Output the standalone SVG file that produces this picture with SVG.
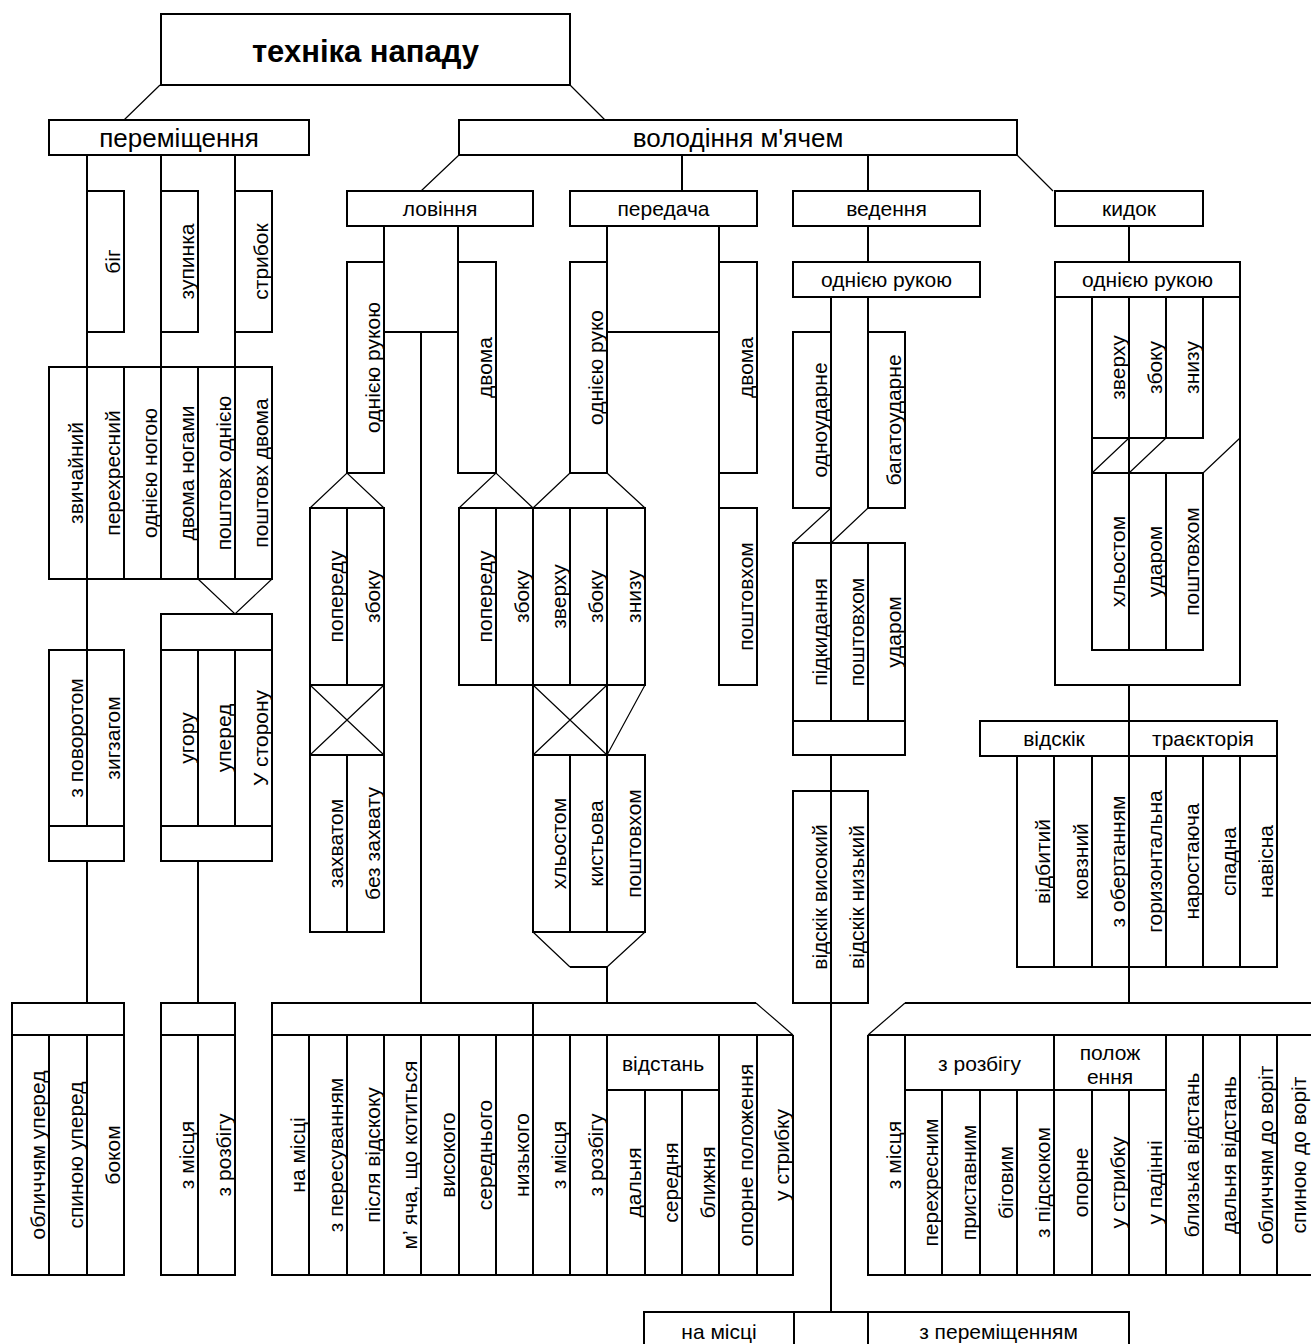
<svg xmlns="http://www.w3.org/2000/svg" width="1311" height="1344" viewBox="0 0 1311 1344">
<style>
.b{fill:none;stroke:#000;stroke-width:2}
.l{fill:none;stroke:#000;stroke-width:2}
.d{fill:none;stroke:#000;stroke-width:1.2}
text{font-family:"Liberation Sans",Arial,sans-serif;font-size:21px;fill:#000;text-anchor:middle}
.big{font-size:26px}
.title{font-size:31px;font-weight:bold}
</style>
<rect width="1311" height="1344" fill="#fff"/>
<g id="connectors">
<path class="d" d="M160,85L124,120M570,85L605,120M459,155L421,191M1017,155L1053,191"/>
<path class="l" d="M87,155V367M161,155V367M235,155V367M682,155V191M868,155V191M384,226V262M458,226V262M384,332H458M421,332V1003M607,226V262M719,226V262M607,332H719M719,473V508M868,226V262M831,297V543M868,297V332M831,755V791M831,1003V1312M1129,226V262M1129,685V721M1129,967V1003M87,579V650M87,861V1003M198,861V1003M607,967V1003M570,967H607"/>
<path class="d" d="M831,508L793,543M868,508L831,543M198,579L235,614L272,579M310,508L347,473L384,508M459,508L496,473L533,508M533,508L570,473M607,473L645,508M645,685L607,755M533,932L570,967M607,967L645,932M1129,438L1092,473M1166,438L1129,473M1240,438L1203,473"/>
</g>
<g id="n-title"><rect class="b" x="161" y="14" width="409" height="71"/><text class="title" x="365.5" y="62">техніка нападу</text></g>
<g id="n-peremishchennia"><rect class="b" x="49" y="120" width="260" height="35"/><text class="big" x="179" y="146.5">переміщення</text></g>
<g id="n-bih"><rect class="b" x="87" y="191" width="37" height="141"/><text transform="translate(120,261.5) rotate(-90)">біг</text></g>
<g id="n-zupynka"><rect class="b" x="161" y="191" width="37" height="141"/><text transform="translate(194,261.5) rotate(-90)">зупинка</text></g>
<g id="n-strybok"><rect class="b" x="235" y="191" width="37" height="141"/><text transform="translate(268,261.5) rotate(-90)">стрибок</text></g>
<g id="n-bih-types"><rect class="b" x="49" y="367" width="223" height="212"/><path class="l" d="M87,367V579M124,367V579M161,367V579M198,367V579M235,367V579"/>
<text transform="translate(83,473) rotate(-90)">звичайний</text>
<text transform="translate(120,473) rotate(-90)">перехресний</text>
<text transform="translate(157,473) rotate(-90)">однією ногою</text>
<text transform="translate(194,473) rotate(-90)">двома ногами</text>
<text transform="translate(231,473) rotate(-90)">поштовх однією</text>
<text transform="translate(268,473) rotate(-90)">поштовх двома</text></g>
<g id="n-povorot"><rect class="b" x="49" y="650" width="75" height="211"/><path class="l" d="M49,826H124M87,650V826"/>
<text transform="translate(83,738) rotate(-90)">з поворотом</text>
<text transform="translate(120,738) rotate(-90)">зигзагом</text></g>
<g id="n-strybok-dir"><rect class="b" x="161" y="614" width="111" height="247"/><path class="l" d="M161,650H272M161,826H272M198,650V826M235,650V826"/>
<text transform="translate(194,738) rotate(-90)">угору</text>
<text transform="translate(231,738) rotate(-90)">уперед</text>
<text transform="translate(268,738) rotate(-90)">У сторону</text></g>
<g id="n-zupynka-types"><rect class="b" x="12" y="1003" width="112" height="272"/><path class="l" d="M12,1035H124M49,1035V1275M87,1035V1275"/>
<text transform="translate(45,1155) rotate(-90)">обличчям уперед</text>
<text transform="translate(83,1155) rotate(-90)">спиною уперед</text>
<text transform="translate(120,1155) rotate(-90)">боком</text></g>
<g id="n-strybok-types"><rect class="b" x="161" y="1003" width="74" height="272"/><path class="l" d="M161,1035H235M198,1035V1275"/>
<text transform="translate(194,1155) rotate(-90)">з місця</text>
<text transform="translate(231,1155) rotate(-90)">з розбігу</text></g>
<g id="n-volodinnia"><rect class="b" x="459" y="120" width="558" height="35"/><text class="big" x="738" y="146.5">володіння м'ячем</text></g>
<g id="n-lovinnia"><rect class="b" x="347" y="191" width="186" height="35"/><text x="440" y="216">ловіння</text></g>
<g id="n-lov-odniieiu"><rect class="b" x="347" y="262" width="37" height="211"/><text transform="translate(380,367.5) rotate(-90)">однією рукою</text></g>
<g id="n-lov-dvoma"><rect class="b" x="458" y="262" width="38" height="211"/><text transform="translate(492,367.5) rotate(-90)">двома</text></g>
<g id="n-lov-odn-types"><rect class="b" x="310" y="508" width="74" height="424"/><path class="l" d="M310,685H384M310,755H384M347,508V685M347,755V932"/><path class="d" d="M310,685L384,755M384,685L310,755"/>
<text transform="translate(343,596.5) rotate(-90)">попереду</text>
<text transform="translate(380,596.5) rotate(-90)">збоку</text>
<text transform="translate(343,843.5) rotate(-90)">захватом</text>
<text transform="translate(380,843.5) rotate(-90)">без захвату</text></g>
<g id="n-dir-table"><rect class="b" x="459" y="508" width="186" height="177"/><path class="l" d="M496,508V685M533,508V685M570,508V685M607,508V685"/>
<text transform="translate(492,596.5) rotate(-90)">попереду</text>
<text transform="translate(529,596.5) rotate(-90)">збоку</text>
<text transform="translate(566,596.5) rotate(-90)">зверху</text>
<text transform="translate(603,596.5) rotate(-90)">збоку</text>
<text transform="translate(641,596.5) rotate(-90)">знизу</text></g>
<g id="n-x-box"><rect class="b" x="533" y="685" width="74" height="70"/><path class="d" d="M533,685L607,755M607,685L533,755"/></g>
<g id="n-per-types"><rect class="b" x="533" y="755" width="112" height="177"/><path class="l" d="M570,755V932M607,755V932"/>
<text transform="translate(566,843.5) rotate(-90)">хльостом</text>
<text transform="translate(603,843.5) rotate(-90)">кистьова</text>
<text transform="translate(641,843.5) rotate(-90)">поштовхом</text></g>
<g id="n-peredacha"><rect class="b" x="570" y="191" width="187" height="35"/><text x="663.5" y="216">передача</text></g>
<g id="n-per-odniieiu"><rect class="b" x="570" y="262" width="37" height="211"/><text transform="translate(603,367.5) rotate(-90)">однією руко</text></g>
<g id="n-per-dvoma"><rect class="b" x="719" y="262" width="38" height="211"/><text transform="translate(753,367.5) rotate(-90)">двома</text></g>
<g id="n-per-poshtovkhom"><rect class="b" x="719" y="508" width="38" height="177"/><text transform="translate(753,596.5) rotate(-90)">поштовхом</text></g>
<g id="n-mid-bottom"><path class="l" d="M756,1003H272V1275H793V1035M272,1035H793M533,1003V1035M309,1035V1275M347,1035V1275M384,1035V1275M421,1035V1275M459,1035V1275M496,1035V1275M533,1035V1275M570,1035V1275M607,1035V1275M719,1035V1275M757,1035V1275M607,1090H719M645,1090V1275M682,1090V1275"/><path class="d" d="M756,1003L793,1035"/>
<text transform="translate(305,1155) rotate(-90)">на місці</text>
<text transform="translate(343,1155) rotate(-90)">з пересуванням</text>
<text transform="translate(380,1155) rotate(-90)">після відскоку</text>
<text transform="translate(417,1155) rotate(-90)">м’ яча, що котиться</text>
<text transform="translate(455,1155) rotate(-90)">високого</text>
<text transform="translate(492,1155) rotate(-90)">середнього</text>
<text transform="translate(529,1155) rotate(-90)">низького</text>
<text transform="translate(566,1155) rotate(-90)">з місця</text>
<text transform="translate(603,1155) rotate(-90)">з розбігу</text>
<text x="663" y="1071">відстань</text>
<text transform="translate(641,1182.5) rotate(-90)">дальня</text>
<text transform="translate(678,1182.5) rotate(-90)">середня</text>
<text transform="translate(715,1182.5) rotate(-90)">ближня</text>
<text transform="translate(753,1155) rotate(-90)">опорне положення</text>
<text transform="translate(789,1155) rotate(-90)">у стрибку</text></g>
<g id="n-vedennia"><rect class="b" x="793" y="191" width="187" height="35"/><text x="886.5" y="216">ведення</text></g>
<g id="n-ved-odniieiu"><rect class="b" x="793" y="262" width="187" height="35"/><text x="886.5" y="286.5">однією рукою</text></g>
<g id="n-odnoudarne"><rect class="b" x="793" y="332" width="38" height="176"/><text transform="translate(827,420) rotate(-90)">одноударне</text></g>
<g id="n-bahatoudarne"><rect class="b" x="868" y="332" width="37" height="176"/><text transform="translate(901,420) rotate(-90)">багатоударне</text></g>
<g id="n-ved-types"><rect class="b" x="793" y="543" width="112" height="212"/><path class="l" d="M793,721H905M831,543V721M868,543V721"/>
<text transform="translate(827,632) rotate(-90)">підкидання</text>
<text transform="translate(864,632) rotate(-90)">поштовхом</text>
<text transform="translate(901,632) rotate(-90)">ударом</text></g>
<g id="n-vidskik"><rect class="b" x="793" y="791" width="75" height="212"/><path class="l" d="M831,791V1003"/>
<text transform="translate(827,897) rotate(-90)">відскік високий</text>
<text transform="translate(864,897) rotate(-90)">відскік низький</text></g>
<g id="n-ved-bottom"><rect class="b" x="644" y="1312" width="485" height="40"/><path class="l" d="M794,1312V1352M868,1312V1352"/>
<text x="719" y="1339">на місці</text>
<text x="998.5" y="1339">з переміщенням</text></g>
<g id="n-kydok"><rect class="b" x="1055" y="191" width="148" height="35"/><text x="1129" y="216">кидок</text></g>
<g id="n-kyd-odniieiu"><rect class="b" x="1055" y="262" width="185" height="35"/><path class="l" d="M1055,297V685H1240V297"/><text x="1147.5" y="286.5">однією рукою</text></g>
<g id="n-kyd-dir"><rect class="b" x="1092" y="297" width="111" height="141"/><path class="l" d="M1129,297V473M1166,297V438M1092,438V473"/>
<text transform="translate(1125,367.5) rotate(-90)">зверху</text>
<text transform="translate(1162,367.5) rotate(-90)">збоку</text>
<text transform="translate(1199,367.5) rotate(-90)">знизу</text></g>
<g id="n-kyd-types"><rect class="b" x="1092" y="473" width="111" height="177"/><path class="l" d="M1129,473V650M1166,473V650"/>
<text transform="translate(1125,561.5) rotate(-90)">хльостом</text>
<text transform="translate(1162,561.5) rotate(-90)">ударом</text>
<text transform="translate(1199,561.5) rotate(-90)">поштовхом</text></g>
<g id="n-vidskik-traiektoriia"><rect class="b" x="980" y="721" width="297" height="35"/><path class="l" d="M1129,721V756"/>
<text x="1054" y="746">відскік</text>
<text x="1203" y="746">траєкторія</text></g>
<g id="n-vid-tr-types"><rect class="b" x="1017" y="756" width="260" height="211"/><path class="l" d="M1054,756V967M1092,756V967M1129,756V967M1166,756V967M1203,756V967M1240,756V967"/>
<text transform="translate(1050,861.5) rotate(-90)">відбитий</text>
<text transform="translate(1088,861.5) rotate(-90)">ковзний</text>
<text transform="translate(1125,861.5) rotate(-90)">з обертанням</text>
<text transform="translate(1162,861.5) rotate(-90)">горизонтальна</text>
<text transform="translate(1199,861.5) rotate(-90)">наростаюча</text>
<text transform="translate(1236,861.5) rotate(-90)">спадна</text>
<text transform="translate(1273,861.5) rotate(-90)">навісна</text></g>
<g id="n-kyd-bottom"><path class="l" d="M905,1003H1316M868,1035H1316M868,1035V1275H1316M1314,1035V1275M905,1035V1275M1054,1035V1275M1166,1035V1275M1203,1035V1275M1240,1035V1275M1277,1035V1275M905,1090H1166M942,1090V1275M980,1090V1275M1017,1090V1275M1092,1090V1275M1129,1090V1275"/><path class="d" d="M905,1003L868,1035"/>
<text transform="translate(901,1155) rotate(-90)">з місця</text>
<text x="979.5" y="1071">з розбігу</text>
<text x="1110" y="1060">полож</text>
<text x="1110" y="1084">ення</text>
<text transform="translate(938,1182.5) rotate(-90)">перехресним</text>
<text transform="translate(976,1182.5) rotate(-90)">приставним</text>
<text transform="translate(1013,1182.5) rotate(-90)">біговим</text>
<text transform="translate(1050,1182.5) rotate(-90)">з підскоком</text>
<text transform="translate(1088,1182.5) rotate(-90)">опорне</text>
<text transform="translate(1125,1182.5) rotate(-90)">у стрибку</text>
<text transform="translate(1162,1182.5) rotate(-90)">у падінні</text>
<text transform="translate(1199,1155) rotate(-90)">близька відстань</text>
<text transform="translate(1236,1155) rotate(-90)">дальня відстань</text>
<text transform="translate(1273,1155) rotate(-90)">обличчям до воріт</text>
<text transform="translate(1306,1155) rotate(-90)">спиною до воріт</text></g>
</svg>
